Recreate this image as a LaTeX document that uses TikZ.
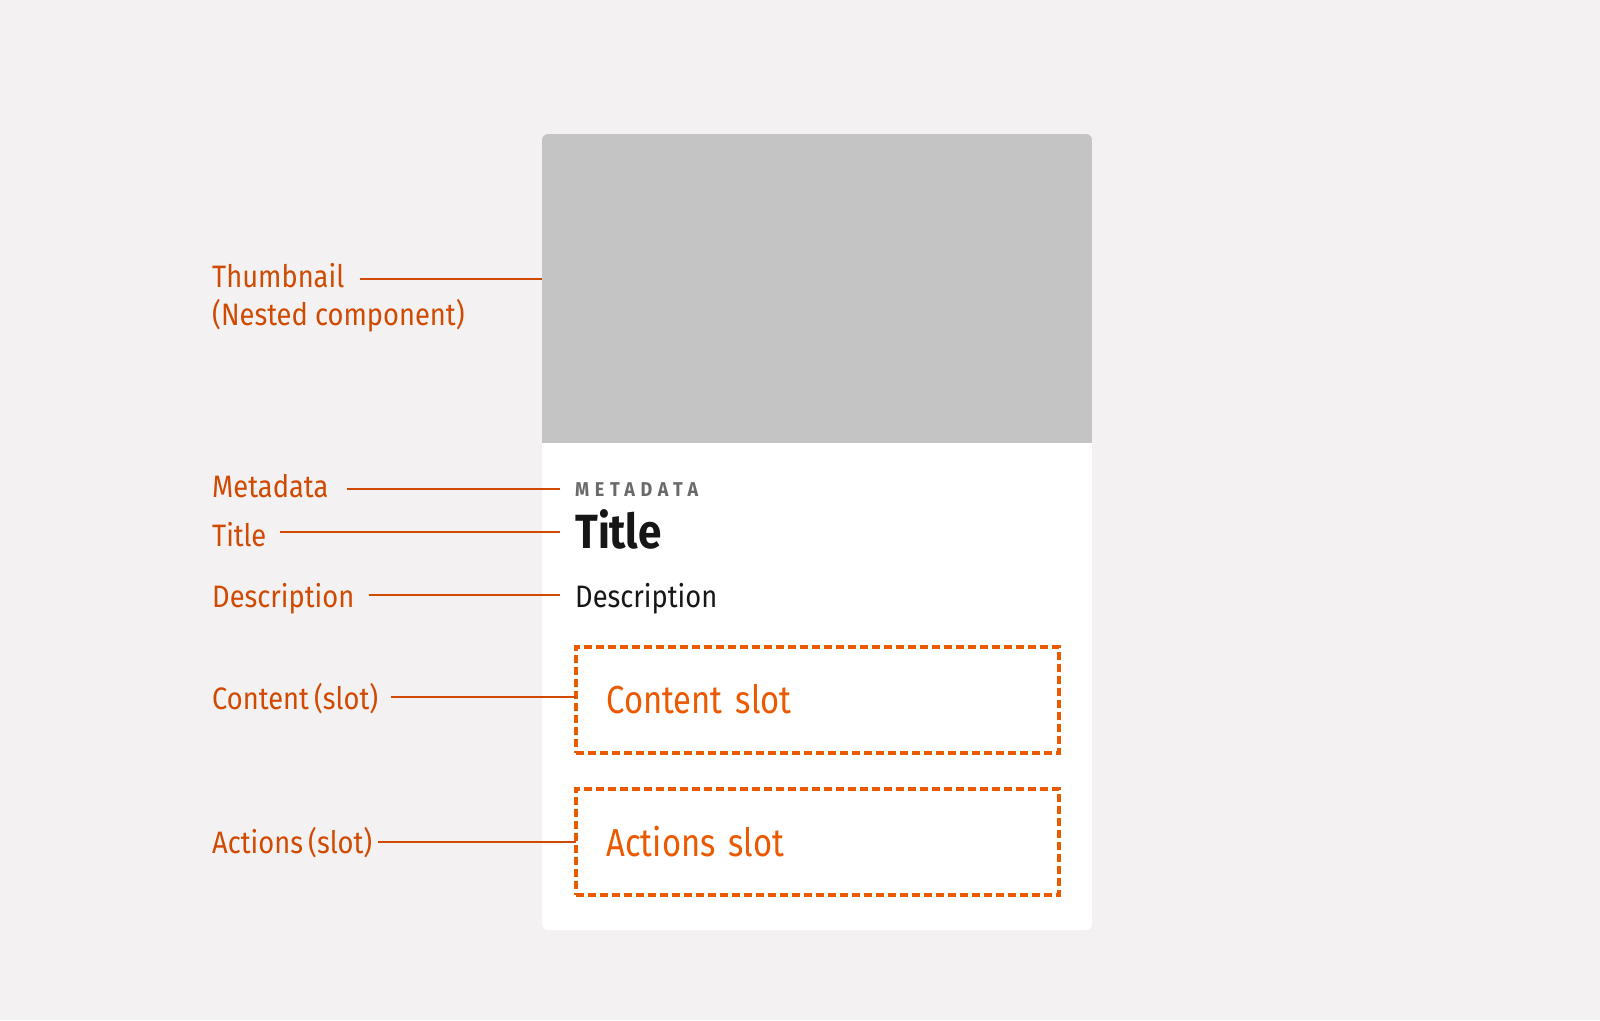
\documentclass[tikz,border=0pt]{standalone}
\usepackage{fontspec}
\setmainfont[FakeStretch=0.88]{Fira Sans}
\newfontfamily\metafont[FakeStretch=0.9,LetterSpace=28]{Fira Sans}
\newfontfamily\slotfont[FakeStretch=0.84]{Fira Sans}
\definecolor{bg}{HTML}{F3F1F2}
\definecolor{thumbgray}{HTML}{C4C4C4}
\definecolor{lblorange}{HTML}{D04A02}
\definecolor{slotorange}{HTML}{EB5A00}
\definecolor{ink}{HTML}{161616}
\definecolor{metagray}{HTML}{6A6A6A}
\tikzset{
  lbl/.style={anchor=base west, inner sep=0pt, text=lblorange, font=\fontsize{31}{36}\selectfont},
  leader/.style={draw=lblorange, line width=1.8pt},
  slotbox/.style={draw=slotorange, line width=4pt, dash pattern=on 8pt off 4pt,
    anchor=north west, outer sep=0pt, minimum width=483pt, minimum height=106pt, inner xsep=31pt, inner ysep=0pt,
    text width=421pt, align=left, text=slotorange, font=\slotfont\fontsize{39}{45}\selectfont},
  cardtext/.style={anchor=base west, inner sep=0pt}
}
\begin{document}
\begin{tikzpicture}[x=1pt,y=-1pt]
\fill[bg] (0,0) rectangle (1600,1020);
\useasboundingbox (0,0) rectangle (1600,1020);
% card
\fill[white, rounded corners=6pt] (542,134) rectangle (1092,930);
\begin{scope}
  \clip[rounded corners=6pt] (542,134) rectangle (1092,930);
  \fill[thumbgray] (542,134) rectangle (1092,443);
\end{scope}
\coordinate (thumbedge) at (542,279);
% card texts
\node[cardtext, text=metagray, font=\metafont\bfseries\fontsize{20}{24}\selectfont] (meta) at (575,496) {METADATA};
\node[cardtext, text=ink, font=\bfseries\fontsize{48}{54}\selectfont] (title) at (575,548) {Title};
\node[cardtext, text=ink, font=\fontsize{31}{36}\selectfont] (desc) at (575,607) {Description};
\node[slotbox] (cslot) at (575.5,646.5) {Content slot};
\node[slotbox] (aslot) at (575.5,788.5) {Actions slot};
% labels
\node[lbl] (lthumb) at (212,287) {Thumbnail};
\node[lbl] (lnested) at (212,325) {(Nested component)};
\node[lbl] (lmeta) at (212,497) {Metadata};
\node[lbl] (ltitle) at (212,546) {Title};
\node[lbl] (ldesc) at (212,607) {Description};
\node[lbl] (lcont) at (212,709) {Content\,(slot)};
\node[lbl] (lact) at (212,853) {Actions\,(slot)};
% leaders
\draw[leader] ([xshift=16pt]lthumb.east |- thumbedge) -- (thumbedge);
\draw[leader] ([xshift=18pt]lmeta.east |- 0,489) -- ([xshift=-15pt]meta.west |- 0,489);
\draw[leader] ([xshift=13pt]ltitle.east |- 0,532) -- ([xshift=-15pt]title.west |- 0,532);
\draw[leader] ([xshift=14pt]ldesc.east |- 0,595) -- ([xshift=-15pt]desc.west |- 0,595);
\draw[leader] ([xshift=13pt]lcont.east |- 0,697) -- (cslot.west |- 0,697);
\draw[leader] ([xshift=6pt]lact.east |- 0,842) -- (aslot.west |- 0,842);
\end{tikzpicture}
\end{document}
